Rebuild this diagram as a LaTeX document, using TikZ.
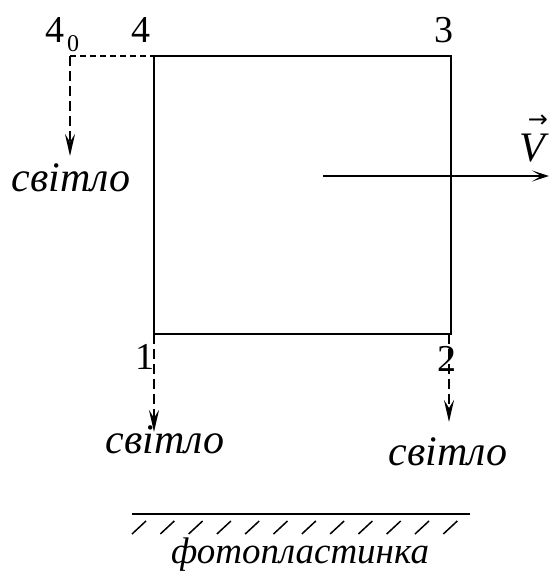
\documentclass[tikz,border=0pt]{standalone}
\usepackage{fontspec}
\setmainfont{Liberation Serif}
\newfontfamily\dvfont{DejaVu Sans}
\usetikzlibrary{arrows.meta}
\begin{document}
\begin{tikzpicture}[x=1pt,y=-1pt,
  lbl/.style={inner sep=0pt,font=\fontsize{38}{40}\selectfont},
  word/.style={inner sep=0pt,font=\fontsize{42}{44}\selectfont\itshape},
  ln/.style={line width=2pt},
  dsh/.style={line width=2.5pt,dash pattern=on 10pt off 5pt},
  hdsh/.style={line width=1.7pt,dash pattern=on 6pt off 4pt},
  arr/.style={-{Stealth[length=22pt,width=10pt,inset=8pt]}},
  varr/.style={-{Stealth[length=17pt,width=11pt,inset=9pt]}}]
\useasboundingbox (0,0) rectangle (549,581);
\coordinate (c4) at (154,56);
\coordinate (c3) at (451,56);
\coordinate (c2) at (451,334);
\coordinate (c1) at (154,334);
\coordinate (c40) at (70,56);
\draw[ln] (c4) -- (c3) -- (c2) -- (c1) -- cycle;
\draw[hdsh] (c40) -- (c4);
\coordinate (e40) at (70,156);
\coordinate (e1) at (154,432);
\coordinate (e2) at (449,422);
\coordinate (s2) at (449,334);
\draw[dsh,arr] (c40) -- (e40);
\draw[dsh,arr] (c1) -- (e1);
\draw[dsh,arr] (s2) -- (e2);
\coordinate (v0) at (323,176);
\coordinate (v1) at (549,176);
\draw[ln,varr] (v0) -- (v1);
\node[lbl] (l4) at (141,30) {4};
\node[lbl] (l3) at (444,30) {3};
\node[lbl] (l40) at (55,30) {4};
\node[inner sep=0pt,font=\fontsize{24}{26}\selectfont] (l0) at (73,44) {0};
\node[lbl] (l1) at (145,357) {1};
\node[lbl] (l2) at (447,359) {2};
\node[word] (w0) at (71,178) {світло};
\node[word] (w1) at (165,440) {світло};
\node[word] (w2) at (448,452) {світло};
\node[word,anchor=base] (vv) at (532,161) {V};
\node[inner sep=0pt,font=\fontsize{24}{24}\selectfont\dvfont] (varrow) at (538,121) {→};
\node[inner sep=0pt,font=\fontsize{37}{40}\selectfont\itshape] (ph) at (300,555) {фотопластинка};
\coordinate (p0) at (132,514);
\coordinate (p1) at (470,514);
\draw[ln] (p0) -- (p1);
\foreach \i in {0,...,11} {
  \draw[line width=1.5pt] ({146+\i*28.3},521) -- ({132+\i*28.3},534);
}
\end{tikzpicture}
\end{document}
